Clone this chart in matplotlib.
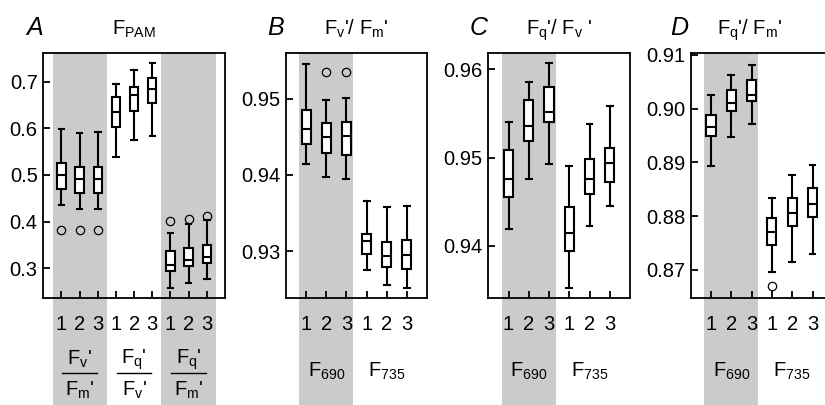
import matplotlib
matplotlib.use('Agg')
import matplotlib.pyplot as plt

plt.rcParams['font.family'] = 'Liberation Sans'
plt.rcParams['mathtext.fontset'] = 'custom'
plt.rcParams['mathtext.rm'] = 'Liberation Sans'
plt.rcParams['mathtext.it'] = 'Liberation Sans:italic'

# panel A: F_PAM, three ratios x three repeats
A_whislo = [0.436, 0.427, 0.428, 0.538, 0.575, 0.584, 0.257, 0.268, 0.276]
A_q1 = [0.470, 0.462, 0.462, 0.602, 0.637, 0.654, 0.295, 0.305, 0.311]
A_med = [0.500, 0.491, 0.491, 0.635, 0.671, 0.684, 0.307, 0.318, 0.325]
A_q3 = [0.525, 0.516, 0.516, 0.666, 0.689, 0.707, 0.336, 0.343, 0.349]
A_whishi = [0.599, 0.590, 0.591, 0.695, 0.724, 0.739, 0.376, 0.394, 0.404]
A_fliers = [[0.383], [0.381], [0.381], [], [], [], [0.401], [0.405], [0.413]]

# panel B: Fv'/Fm'
B_whislo = [0.9414, 0.9397, 0.9395, 0.9275, 0.9256, 0.9251]
B_q1 = [0.9441, 0.9429, 0.9426, 0.9296, 0.9279, 0.9276]
B_med = [0.9460, 0.9450, 0.9451, 0.9313, 0.9294, 0.9295]
B_q3 = [0.9485, 0.9468, 0.9469, 0.9323, 0.9312, 0.9314]
B_whishi = [0.9546, 0.9499, 0.9501, 0.9366, 0.9358, 0.9359]
B_fliers = [[], [0.9535], [0.9535], [], [], []]

# panel C: Fq'/Fv'
C_whislo = [0.9419, 0.9476, 0.9493, 0.9352, 0.9423, 0.9445]
C_q1 = [0.9455, 0.9519, 0.9540, 0.9394, 0.9459, 0.9472]
C_med = [0.9476, 0.9536, 0.9552, 0.9415, 0.9476, 0.9494]
C_q3 = [0.9509, 0.9565, 0.9580, 0.9444, 0.9498, 0.9511]
C_whishi = [0.9540, 0.9586, 0.9607, 0.9490, 0.9538, 0.9558]
C_fliers = [[], [], [], [], [], []]

# panel D: Fq'/Fm'
D_whislo = [0.8893, 0.8947, 0.8971, 0.8696, 0.8714, 0.8729]
D_q1 = [0.8949, 0.8996, 0.9014, 0.8747, 0.8782, 0.8798]
D_med = [0.8965, 0.9010, 0.9026, 0.8771, 0.8806, 0.8823]
D_q3 = [0.8988, 0.9034, 0.9053, 0.8796, 0.8833, 0.8852]
D_whishi = [0.9026, 0.9062, 0.9082, 0.8833, 0.8876, 0.8896]
D_fliers = [[], [], [], [0.8669], [], []]

repeat_labels = ['1', '2', '3']
A_yticks = [0.3, 0.4, 0.5, 0.6, 0.7]
B_yticks = [0.93, 0.94, 0.95]
C_yticks = [0.94, 0.95, 0.96]
D_yticks = [0.87, 0.88, 0.89, 0.90, 0.91]

GRAY = '#cbcbcb'
FS = 14.5
W, H = 825, 405
fig = plt.figure(figsize=(8.25, 4.05), dpi=100)


def px_axes(left, right, top=53.3, bottom=298.3):
    return fig.add_axes([left / W, 1 - bottom / H, (right - left) / W, (bottom - top) / H])


def draw_boxes(ax, whislo, q1, med, q3, whishi, fliers, width):
    stats = []
    for i in range(len(med)):
        stats.append({'whislo': whislo[i], 'q1': q1[i], 'med': med[i], 'q3': q3[i],
                      'whishi': whishi[i], 'fliers': fliers[i]})
    lw = 1.5
    ax.bxp(stats, positions=range(1, len(med) + 1), widths=width, capwidths=width * 0.65,
           patch_artist=True, manage_ticks=False,
           boxprops=dict(facecolor='white', edgecolor='black', linewidth=lw),
           medianprops=dict(color='black', linewidth=lw),
           whiskerprops=dict(color='black', linewidth=lw),
           capprops=dict(color='black', linewidth=lw),
           flierprops=dict(marker='o', markerfacecolor='none', markeredgecolor='black',
                           markersize=6, markeredgewidth=0.9))


def style_axes(ax, n, yticks, fmt):
    for s in ax.spines.values():
        s.set_linewidth(1.3)
    ax.set_yticks(yticks)
    ax.set_yticklabels([fmt % v for v in yticks])
    ax.set_xticks(range(1, n + 1))
    ax.set_xticklabels(repeat_labels * (n // 3))
    ax.tick_params(direction='in', length=5, width=1.3, labelsize=FS)
    ax.tick_params(axis='x', pad=12)
    ax.tick_params(axis='y', pad=4)


def gray_band(ax, x0, x1):
    ax.axvspan(x0, x1, ymin=-0.45, ymax=1, color=GRAY, lw=0, zorder=0, clip_on=False)


def sub(base, s):
    return r'$\mathrm{%s_{%s}}$' % (base, s)


# ---- A
axA = px_axes(43.3, 225)
gray_band(axA, 0.55, 3.52)
gray_band(axA, 6.5, 9.5)
draw_boxes(axA, A_whislo, A_q1, A_med, A_q3, A_whishi, A_fliers, 0.46)
axA.set_xlim(0, 10)
axA.set_ylim(0.2357, 0.7607)
style_axes(axA, 9, A_yticks, '%.1f')
fracs = [('v', 'm'), ('q', 'v'), ('q', 'm')]
tr = axA.get_xaxis_transform()
for k, (num, den) in enumerate(fracs):
    xc = 2 + 3 * k
    axA.text(xc, -0.25, sub('F', num) + "'", transform=tr, ha='center', va='center', fontsize=FS)
    axA.plot([xc - 0.95, xc + 0.95], [-0.305, -0.305], transform=tr, color='black', lw=1, clip_on=False)
    axA.text(xc, -0.375, sub('F', den) + "'", transform=tr, ha='center', va='center', fontsize=FS)

# ---- B, C, D
panels = [
    (286, 427, B_whislo, B_q1, B_med, B_q3, B_whishi, B_fliers, (0.9238, 0.95598), B_yticks, '%.2f'),
    (488.3, 630, C_whislo, C_q1, C_med, C_q3, C_whishi, C_fliers, (0.93408, 0.9618), C_yticks, '%.2f'),
    (690.7, 832.8, D_whislo, D_q1, D_med, D_q3, D_whishi, D_fliers, (0.8647, 0.9103), D_yticks, '%.2f'),
]
axes = [axA]
for left, right, wl, q1, md, q3, wh, fl, ylim, yt, fmt in panels:
    ax = px_axes(left, right)
    gray_band(ax, 0.67, 3.32)
    draw_boxes(ax, wl, q1, md, q3, wh, fl, 0.45)
    ax.set_xlim(0, 7)
    ax.set_ylim(*ylim)
    style_axes(ax, 6, yt, fmt)
    tr = ax.get_xaxis_transform()
    ax.text(2, -0.30, sub('F', '690'), transform=tr, ha='center', va='center', fontsize=FS)
    ax.text(5, -0.30, sub('F', '735'), transform=tr, ha='center', va='center', fontsize=FS)
    axes.append(ax)

# titles and panel letters
titles = [sub('F', 'PAM'),
          sub('F', 'v') + "'/ " + sub('F', 'm') + "'",
          sub('F', 'q') + "'/ " + sub('F', 'v') + " '",
          sub('F', 'q') + "'/ " + sub('F', 'm') + "'"]
title_x = [134, 356, 559, 750]
letters = ['A', 'B', 'C', 'D']
letter_x = [34.7, 276, 478.6, 679.7]
for t, tx, l, lx in zip(titles, title_x, letters, letter_x):
    fig.text(tx / W, 1 - 35 / H, t, ha='center', va='baseline', fontsize=FS)
    fig.text(lx / W, 1 - 35 / H, l, ha='center', va='baseline', fontsize=18, style='italic')

fig.savefig('out.png', dpi=100)
